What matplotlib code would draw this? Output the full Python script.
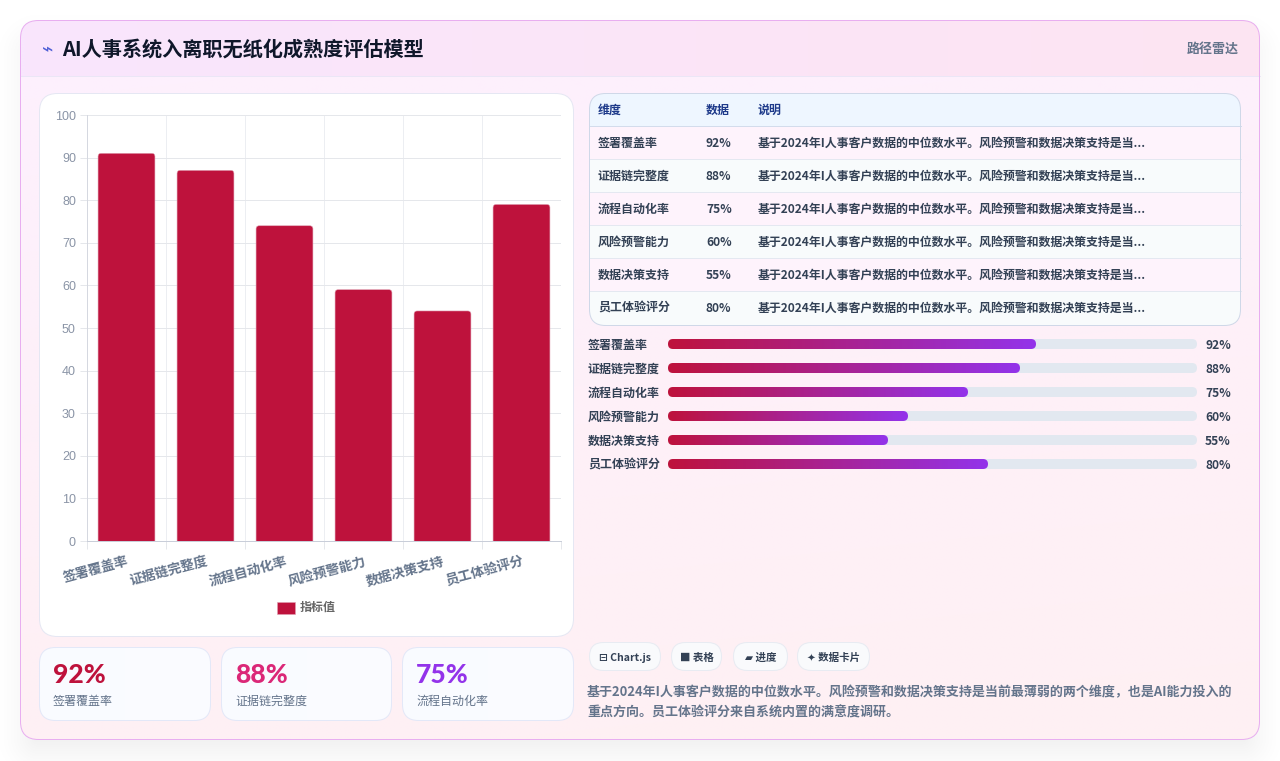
import matplotlib
matplotlib.use("Agg")
import matplotlib.pyplot as plt
import numpy as np
from matplotlib.colors import to_rgb
from matplotlib.patches import FancyBboxPatch, Rectangle

plt.rcParams["font.family"] = ["Noto Sans CJK SC", "DejaVu Sans"]

W, H = 1280, 761

categories = ["签署覆盖率", "证据链完整度", "流程自动化率", "风险预警能力", "数据决策支持", "员工体验评分"]
bar_values = [91, 87, 74, 59, 54, 79]
percent_values = [92, 88, 75, 60, 55, 80]
y_ticks = [0, 10, 20, 30, 40, 50, 60, 70, 80, 90, 100]
note_short = "基于2024年I人事客户数据的中位数水平。风险预警和数据决策支持是当..."
note_lines = [
    "基于2024年I人事客户数据的中位数水平。风险预警和数据决策支持是当前最薄弱的两个维度，也是AI能力投入的",
    "重点方向。员工体验评分来自系统内置的满意度调研。",
]
table_header = ["维度", "数据", "说明"]
stat_colors = ["#be123c", "#db2777", "#9333ea"]
pills = ["⊟ Chart.js", "■ 表格", "▰ 进度", "✦ 数据卡片"]

CRIMSON = "#be123c"
VIOLET = "#9333ea"
SLATE = "#64748b"
DARK = "#334155"
LINE = 0.72  # one pixel at 100 dpi


def px_font(size):
    return size * 72 / 100


def round_box(ax, x0, y0, x1, y1, r, face="none", edge="none", lw=LINE, zorder=2):
    box = FancyBboxPatch((x0, y0), x1 - x0, y1 - y0, boxstyle=f"round,pad=0,rounding_size={r}",
                         facecolor=face, edgecolor=edge, linewidth=lw, zorder=zorder)
    ax.add_patch(box)
    return box


def gradient(ax, extent, c0, c1, clip, diagonal=0.0, zorder=1):
    # horizontal ramp, optionally tilted towards the vertical
    xx, yy = np.meshgrid(np.linspace(0, 1, 128), np.linspace(0, 1, 128))
    t = ((1 - diagonal) * xx + diagonal * yy)[..., None]
    img = (1 - t) * np.array(to_rgb(c0)) + t * np.array(to_rgb(c1))
    im = ax.imshow(img, extent=extent, aspect="auto", interpolation="bilinear", zorder=zorder)
    im.set_clip_path(clip)
    return im


fig = plt.figure(figsize=(W / 100, H / 100), dpi=100, facecolor="white")

# page layer in pixel coordinates
page = fig.add_axes([0, 0, 1, 1], zorder=0)
page.set_autoscale_on(False)
page.set_xlim(0, W)
page.set_ylim(H, 0)
page.axis("off")

# soft drop shadow under the main card
yy, xx = np.mgrid[0:H, 0:W] + 0.5
dx = np.abs(xx - 640) - (620 - 18)
dy = np.abs(yy - 396) - (360 - 18)
dist = np.hypot(np.maximum(dx, 0), np.maximum(dy, 0)) + np.minimum(np.maximum(dx, dy), 0) - 18
shadow = np.zeros((H, W, 4))
shadow[..., 3] = 0.085 * np.clip(0.5 - dist / 60, 0, 1) ** 1.6
page.imshow(shadow, extent=(0, W, H, 0), aspect="auto", zorder=0.5)

# main card with header band
card = round_box(page, 20.5, 20.5, 1259.5, 739.5, 18, zorder=1)
gradient(page, (20, 1260, 740, 20), "#fdf0fe", "#fff0f3", card, diagonal=0.85, zorder=1)
gradient(page, (20, 1260, 76, 20), "#f9e6fd", "#fde4f2", card, zorder=1.1)
page.plot([20, 1260], [76, 76], color="#ebe6f6", lw=LINE, zorder=1.2)
round_box(page, 20.5, 20.5, 1259.5, 739.5, 18, edge="#e8aef0", zorder=1.3)

page.text(47.5, 50, "⌁", color="#4f5fd6", fontsize=px_font(19), ha="center", va="center", family=["DejaVu Sans"], zorder=3)
page.text(62, 56, "AI人事系统入离职无纸化成熟度评估模型", color="#0f172a", fontsize=px_font(20.2), fontweight="bold",
          va="baseline", zorder=3)
page.text(1239, 53, "路径雷达", color=SLATE, fontsize=px_font(13), fontweight="bold", ha="right", va="baseline", zorder=3)

# chart panel
round_box(page, 39.5, 93.5, 573.5, 636.5, 18, face="white", edge="#e5e7f3", zorder=2)

# stat cards
stat_x = [(39.5, 210.5), (221.5, 391.5), (402.5, 573.5)]
for (x0, x1), value, label, color in zip(stat_x, percent_values, categories, stat_colors):
    box = round_box(page, x0, 647.5, x1, 720.5, 16, zorder=2)
    gradient(page, (x0, x1, 720.5, 647.5), "#f9fbff", "#fbfcff", box, zorder=2)
    round_box(page, x0, 647.5, x1, 720.5, 16, edge="#e3e8f8", zorder=2.1)
    page.text(x0 + 13.5, 683, f"{value}%", color=color, fontsize=px_font(26.5), fontweight=900, family=["Lato"],
              va="baseline", zorder=3)
    page.text(x0 + 13.5, 705, label, color=SLATE, fontsize=px_font(12), va="baseline", zorder=3)

# table
table = round_box(page, 589.5, 93.5, 1240.5, 325.5, 16, zorder=2)
row_tops = [126, 159, 192, 225, 258, 291]
cols = [598, 706, 758]
head_rect = Rectangle((589, 93), 652, 33, facecolor="#eef6ff", zorder=2)
page.add_patch(head_rect)
head_rect.set_clip_path(table)
page.plot([589, 1241], [126, 126], color="#d3dcec", lw=LINE, zorder=2.2)
for x, name in zip(cols, table_header):
    page.text(x, 114, name, color="#1e3a8a", fontsize=px_font(12), fontweight="bold", va="baseline", zorder=3)
for i, top in enumerate(row_tops):
    bottom = row_tops[i + 1] if i < 5 else 326
    row = Rectangle((589, top), 652, bottom - top, facecolor="#fef3fc" if i % 2 == 0 else "#f8fbfc", zorder=2)
    page.add_patch(row)
    row.set_clip_path(table)
    if i > 0:
        page.plot([589, 1241], [top, top], color="#e4e8f1", lw=LINE, zorder=2.2)
    base = top + 21
    page.text(cols[0], base, categories[i], color=DARK, fontsize=px_font(12), fontweight="bold", va="baseline", zorder=3)
    page.text(cols[1], base, f"{percent_values[i]}%", color=DARK, fontsize=px_font(12), fontweight="bold", va="baseline", zorder=3)
    page.text(cols[2], base, note_short, color=DARK, fontsize=px_font(11.95), fontweight="bold", va="baseline", zorder=3)
round_box(page, 589.5, 93.5, 1240.5, 325.5, 16, edge="#cfd8e8", zorder=2.4)

# pills and footnote
pill_x = [(589, 661), (671, 722), (733, 788), (797, 870)]
for (x0, x1), text in zip(pill_x, pills):
    round_box(page, x0 + 0.5, 642.5, x1 - 0.5, 670.5, 14, face="#f9fafc", edge="#e8ebf2", zorder=2)
    page.text((x0 + x1) / 2, 661, text, color=DARK, fontsize=px_font(10.5), fontweight="bold", ha="center", va="baseline",
              zorder=3)
for y, line in zip([696, 717], note_lines):
    page.text(587, y, line, color=SLATE, fontsize=px_font(13), fontweight="bold", va="baseline", zorder=3)

# bar chart
ax = fig.add_axes([87 / W, 1 - 541 / H, 474 / W, 426 / H], zorder=1, facecolor="none")
x = np.arange(len(categories))
bars = ax.bar(x, bar_values, width=0.72, color=CRIMSON, zorder=3)
ax.set_xlim(-0.5, 5.5)
ax.set_ylim(0, 100)
for rect in bars:
    # swap each bar for one with rounded top corners, the foot is clipped by the axes
    rect.set_visible(False)
    ax.add_patch(FancyBboxPatch((rect.get_x(), -2), rect.get_width(), rect.get_height() + 2,
                                boxstyle="round,pad=0,rounding_size=0.04", mutation_aspect=18.8,
                                facecolor=CRIMSON, edgecolor="#e0a0b2", linewidth=0.4, zorder=3))
ax.set_yticks(y_ticks)
ax.set_xticks(np.arange(-0.5, 6, 1), minor=True)
ax.set_xticks(x)
ax.set_xticklabels(categories, rotation=15, ha="right", rotation_mode="anchor", color=SLATE,
                   fontsize=px_font(13.4), fontweight="bold")
ax.tick_params(axis="x", which="major", length=0, pad=9.5)
ax.tick_params(axis="x", which="minor", length=5.8, width=LINE, color="#e5e7eb")
ax.tick_params(axis="y", length=5, width=LINE, color="#e5e7eb", pad=3, labelcolor="#8a94a6")
for label in ax.get_yticklabels():
    label.set_fontfamily(["Liberation Sans", "DejaVu Sans"])
    label.set_fontsize(px_font(12.5))
ax.grid(True, axis="y", color="#e5e7eb", lw=LINE, zorder=1)
ax.grid(True, axis="x", which="minor", color="#eceef2", lw=LINE, zorder=1)
for name in ["top", "right"]:
    ax.spines[name].set_visible(False)
ax.spines["left"].set_color("#d5d8e0")
ax.spines["left"].set_linewidth(LINE)
ax.spines["bottom"].set_color("#c9ced9")
ax.spines["bottom"].set_linewidth(LINE)

page.add_patch(Rectangle((277, 602), 18, 12, facecolor=CRIMSON, edgecolor="#e0a0b2", lw=0.4, zorder=3))
page.text(300, 611, "指标值", color="#666666", fontsize=px_font(12), fontweight="bold", va="baseline", zorder=3)

# progress bars, four pixels per percent on a longer track
prog = fig.add_axes([668 / W, 1 - 476 / H, 529 / W, 144 / H], zorder=1, facecolor="none")
prog.set_autoscale_on(False)
prog.set_xlim(0, 132.25)
prog.set_ylim(5.5, -0.5)
prog.axis("off")
for i, (name, value) in enumerate(zip(categories, percent_values)):
    track = FancyBboxPatch((0, i - 5 / 24), 132.25, 10 / 24, boxstyle="round,pad=0,rounding_size=1.25",
                           mutation_aspect=1 / 6, facecolor="#e2e8f0", edgecolor="none", zorder=1)
    prog.add_patch(track)
    fill = FancyBboxPatch((0, i - 5 / 24), value, 10 / 24, boxstyle="round,pad=0,rounding_size=1.25",
                          mutation_aspect=1 / 6, facecolor="none", edgecolor="none", zorder=2)
    prog.add_patch(fill)
    gradient(prog, (0, value, i + 5 / 24, i - 5 / 24), CRIMSON, VIOLET, fill, zorder=2)
    prog.text(-20, i + 5 / 24, name, color=DARK, fontsize=px_font(12), fontweight="bold", va="baseline", clip_on=False)
    prog.text(134.25, i + 5 / 24, f"{value}%", color=DARK, fontsize=px_font(12), fontweight="bold", va="baseline", clip_on=False)

fig.savefig("out.png", dpi=100)
